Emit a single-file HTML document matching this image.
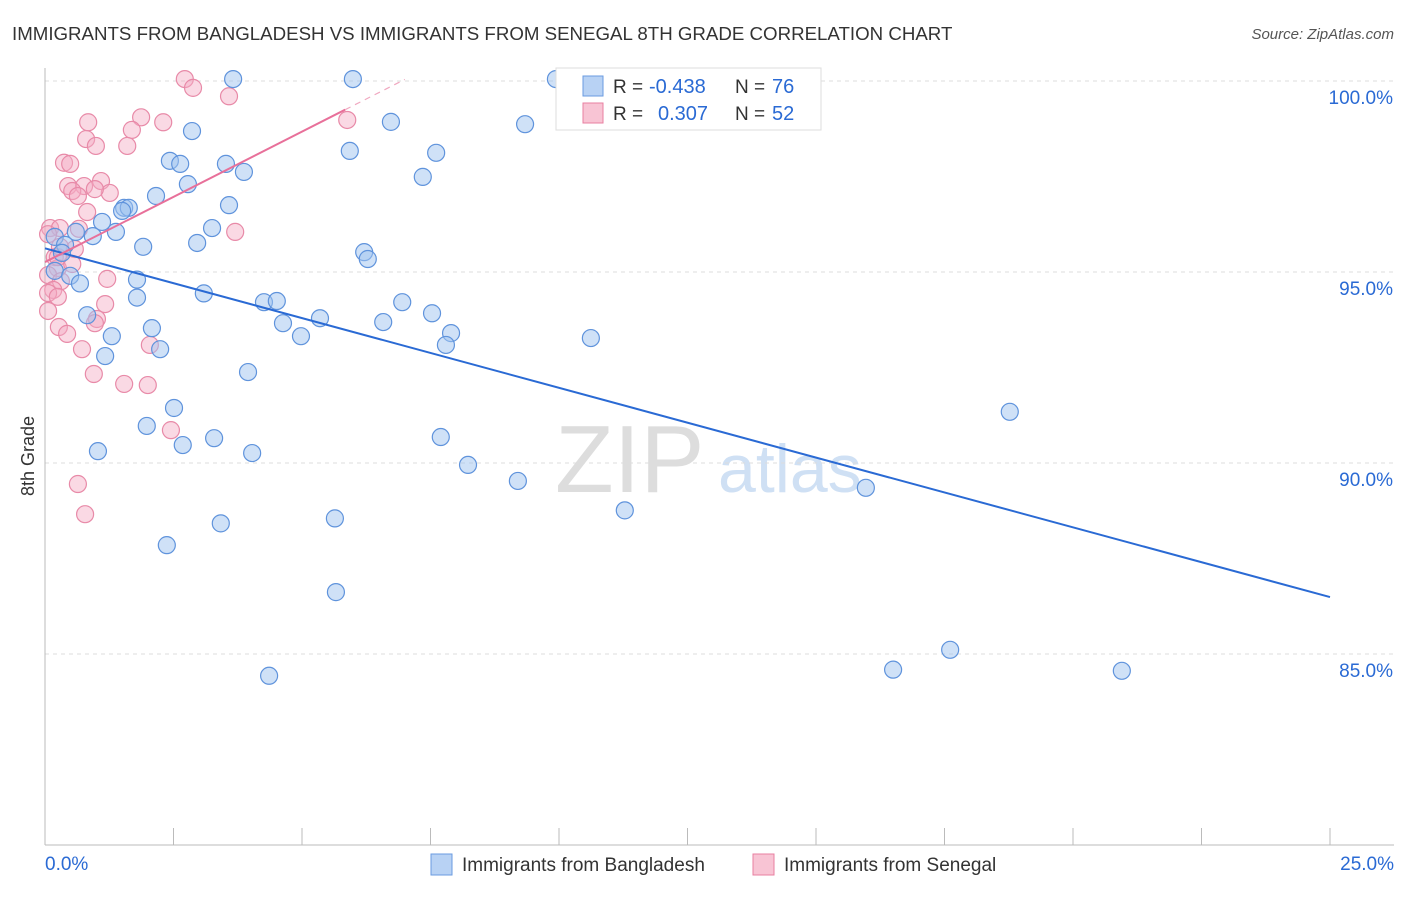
<!DOCTYPE html>
<html><head><meta charset="utf-8"><style>
body{margin:0;background:#fff;font-family:"Liberation Sans",sans-serif}
svg text{font-family:"Liberation Sans",sans-serif}
</style></head><body>
<svg id="c" width="1406" height="892">
<text x="12" y="40" font-size="18.7" fill="#333">IMMIGRANTS FROM BANGLADESH VS IMMIGRANTS FROM SENEGAL 8TH GRADE CORRELATION CHART</text>
<text x="1394" y="39" font-size="15" fill="#555" text-anchor="end" font-style="italic">Source: ZipAtlas.com</text>
<text x="34" y="456" font-size="18" fill="#333" text-anchor="middle" transform="rotate(-90 34 456)">8th Grade</text>
<text x="555" y="492" font-size="96" fill="#ddd" font-family="Liberation Serif">ZIP</text>
<text x="718" y="492" font-size="68" fill="#cfe0f4">atlas</text>
<g id="grid"></g><g id="pts"></g><g id="trends"></g>
<g>
<rect x="556" y="68" width="265" height="62" fill="#fff" stroke="#ddd"/>
<rect x="583" y="76" width="20" height="20" fill="#b8d2f4" stroke="#6a9be0"/>
<rect x="583" y="103" width="20" height="20" fill="#f8c4d4" stroke="#e87fa0"/>
<text x="613" y="93" font-size="19" fill="#333">R =</text>
<text x="649" y="93" font-size="20" fill="#2a6ad4">-0.438</text>
<text x="735" y="93" font-size="19" fill="#333">N =</text>
<text x="772" y="93" font-size="20" fill="#2a6ad4">76</text>
<text x="613" y="120" font-size="19" fill="#333">R =</text>
<text x="658" y="120" font-size="20" fill="#2a6ad4">0.307</text>
<text x="735" y="120" font-size="19" fill="#333">N =</text>
<text x="772" y="120" font-size="20" fill="#2a6ad4">52</text>
</g>
<g>
<rect x="431" y="854" width="21" height="21" fill="#b8d2f4" stroke="#6a9be0"/>
<text x="462" y="871" font-size="19" fill="#333">Immigrants from Bangladesh</text>
<rect x="753" y="854" width="21" height="21" fill="#f8c4d4" stroke="#e87fa0"/>
<text x="784" y="871" font-size="19" fill="#333">Immigrants from Senegal</text>
</g>
</svg>
<script>
const yTicks=[100,95,90,85];
const xTickLabels=["0.0%","25.0%"];
const blueX=[3.66,5.99,9.94,6.73,9.34,2.86,5.93,7.61,2.43,2.63,3.52,3.87,7.35,2.78,2.16,3.58,1.54,1.63,1.50,1.11,3.25,1.38,0.93,0.19,0.60,0.39,1.91,2.96,6.21,6.28,0.33,0.19,0.49,1.79,0.68,1.79,3.09,4.26,4.51,6.95,0.82,5.35,7.53,4.63,2.08,6.58,1.30,4.98,7.90,7.80,10.62,2.24,1.17,3.95,2.51,18.77,1.98,3.29,7.70,2.68,1.03,4.03,8.23,9.20,15.97,11.28,5.64,3.42,2.37,5.66,17.61,16.5,20.95,4.36];
const blueY=[100.05,100.05,100.05,98.93,98.87,98.69,98.17,98.12,97.91,97.83,97.83,97.62,97.49,97.3,96.99,96.75,96.68,96.68,96.6,96.31,96.15,96.05,95.94,95.92,96.05,95.71,95.66,95.76,95.52,95.34,95.5,95.03,94.9,94.8,94.7,94.33,94.44,94.21,94.24,94.21,93.87,93.79,93.92,93.66,93.53,93.69,93.32,93.32,93.4,93.09,93.27,92.98,92.8,92.38,91.44,91.34,90.97,90.65,90.68,90.47,90.31,90.26,89.95,89.53,89.35,88.76,88.55,88.42,87.85,86.62,85.11,84.59,84.56,84.43];
const pinkX=[2.72,2.88,3.58,1.87,0.84,2.30,1.69,0.80,1.60,0.99,0.37,0.49,1.09,0.45,0.76,0.53,1.26,0.97,0.64,0.82,0.10,0.29,0.66,3.70,0.06,0.19,0.25,0.06,1.21,0.31,0.16,0.06,0.25,1.17,0.06,1.01,0.97,0.27,0.43,2.04,0.72,0.95,1.54,2.00,2.45,0.64,0.78,5.88,0.58,0.53,0.25,0.29];
const pinkY=[100.05,99.82,99.6,99.05,98.92,98.92,98.72,98.48,98.3,98.3,97.86,97.83,97.38,97.25,97.25,97.12,97.07,97.17,96.99,96.57,96.15,96.15,96.13,96.05,95.99,95.39,95.1,94.92,94.82,94.76,94.53,94.45,94.35,94.16,93.98,93.77,93.66,93.56,93.38,93.09,92.98,92.33,92.07,92.04,90.86,89.45,88.66,98.98,95.6,95.21,95.39,95.66];
const blueTrend=[95.62,86.49];
const pinkTrend=[95.26,0.683];
const sx=v=>45+v*51.4, sy=v=>81+(100-v)*38.2;
const NS="http://www.w3.org/2000/svg";
function mk(t,a,p){const e=document.createElementNS(NS,t);for(const k in a)e.setAttribute(k,a[k]);p.appendChild(e);return e;}
const grid=document.getElementById('grid');
yTicks.forEach(v=>{
 const l=mk('line',{x1:45,x2:1394,y1:sy(v),y2:sy(v),stroke:'#ddd','stroke-dasharray':'4 4'},grid);
 
 
 const t=mk('text',{x:1393,y:sy(v)+23,'font-size':19,fill:'#2a6ad4','text-anchor':'end'},grid);t.textContent=v.toFixed(1)+'%';
 
 
});
const ax=mk('line',{x1:45,x2:1394,y1:845,y2:845,stroke:'#bbb'},grid);


const ay=mk('line',{x1:45,x2:45,y1:68,y2:845,stroke:'#bbb'},grid);


for(let i=1;i<=10;i++){const t=mk('line',{x1:sx(i*2.5),x2:sx(i*2.5),y1:828,y2:845,stroke:'#bbb'},grid);
 
 }
[[0,'start',45],[1,'end',1394]].forEach(([i,a,x])=>{const t=mk('text',{x:x,y:870,'font-size':19,fill:'#2a6ad4','text-anchor':a},grid);t.textContent=xTickLabels[i];
 
 });
const pts=document.getElementById('pts');
pinkX.forEach((x,i)=>{const c=mk('circle',{cx:sx(x),cy:sy(pinkY[i]),r:8.5,fill:'rgba(244,170,195,0.45)',stroke:'#e88aa8','stroke-width':1.2},pts);
 
 });
blueX.forEach((x,i)=>{const c=mk('circle',{cx:sx(x),cy:sy(blueY[i]),r:8.5,fill:'rgba(160,195,240,0.5)',stroke:'#5f93dc','stroke-width':1.2},pts);
 
 });
const tr=document.getElementById('trends');
const bl=mk('line',{x1:sx(0),y1:sy(blueTrend[0]),x2:sx(25),y2:sy(blueTrend[1]),stroke:'#2a6ad4','stroke-width':2},tr);


const pe=5.84, pd=7.0;
const pl=mk('line',{x1:sx(0),y1:sy(pinkTrend[0]),x2:sx(pe),y2:sy(pinkTrend[0]+pinkTrend[1]*pe),stroke:'#e8709a','stroke-width':2},tr);


const pdl=mk('line',{x1:sx(pe),y1:sy(pinkTrend[0]+pinkTrend[1]*pe),x2:sx(pd),y2:sy(pinkTrend[0]+pinkTrend[1]*pd),stroke:'#f0a8c0','stroke-width':1.2,'stroke-dasharray':'6 5'},tr);


</script>
</body></html>
